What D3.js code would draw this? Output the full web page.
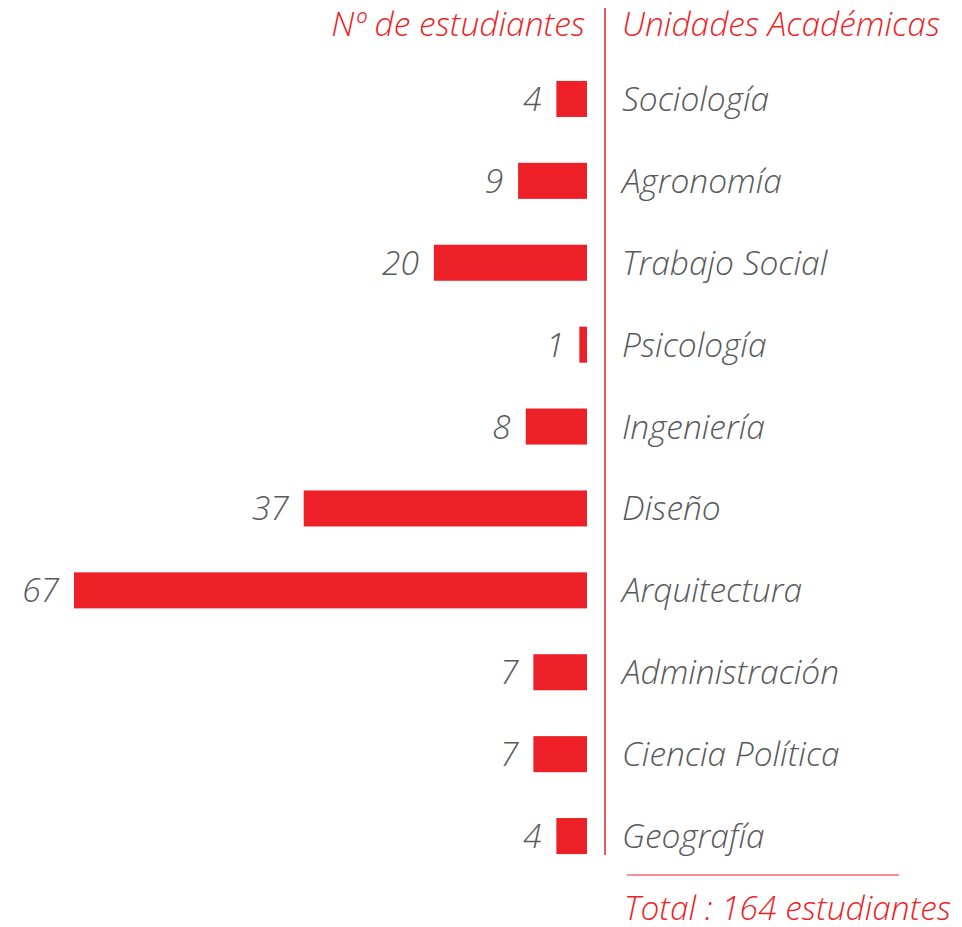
<!DOCTYPE html>
<html>
<head>
<meta charset="utf-8">
<script src="https://cdn.jsdelivr.net/npm/d3@7"></script>
<style>
  body { margin: 0; background: #fff; }
  text { font-family: "Open Sans", sans-serif; font-style: italic; font-weight: 300; }
</style>
</head>
<body>
<div id="chart"></div>
<script>
// data
var unidades = ["Sociología", "Agronomía", "Trabajo Social", "Psicología", "Ingeniería",
  "Diseño", "Arquitectura", "Administración", "Ciencia Política", "Geografía"];
var estudiantes = [4, 9, 20, 1, 8, 37, 67, 7, 7, 4];
var headerLeft = "Nº de estudiantes";
var headerRight = "Unidades Académicas";
var totalLabel = "Total : " + d3.sum(estudiantes) + " estudiantes";

var width = 962, height = 927;
var red = "#ed1f27", grey = "#58595b";
var axisX = 587;
var fs = "33.5px";

var svg = d3.select("#chart").append("svg")
  .attr("width", width)
  .attr("height", height);

var x = d3.scaleLinear()
  .domain([0, 67])
  .range([0, 513]);

var y = d3.scaleBand()
  .domain(unidades)
  .range([58, 877])
  .paddingInner(0.56)
  .paddingOuter(0.28);

var rows = unidades.map(function(u, i) { return { name: u, value: estudiantes[i] }; });

svg.selectAll(".bar")
  .data(rows)
  .join("rect")
  .attr("class", "bar")
  .attr("x", function(d) { return axisX - x(d.value); })
  .attr("y", function(d) { return y(d.name); })
  .attr("width", function(d) { return x(d.value); })
  .attr("height", y.bandwidth())
  .style("fill", red);

svg.selectAll(".val")
  .data(rows)
  .join("text")
  .attr("class", "val")
  .attr("x", function(d) { return axisX - x(d.value) - 15; })
  .attr("y", function(d) { return y(d.name) + y.bandwidth() / 2 + 12; })
  .attr("text-anchor", "end")
  .style("font-size", fs)
  .style("fill", grey)
  .text(function(d) { return d.value; });

svg.selectAll(".name")
  .data(rows)
  .join("text")
  .attr("class", "name")
  .attr("x", 622)
  .attr("y", function(d) { return y(d.name) + y.bandwidth() / 2 + 12; })
  .style("font-size", fs)
  .style("fill", grey)
  .text(function(d) { return d.name; });

// divider
svg.append("line")
  .attr("x1", 605).attr("x2", 605)
  .attr("y1", 8).attr("y2", 855)
  .style("stroke", red)
  .style("stroke-width", 1.5);

svg.append("text")
  .attr("x", 585)
  .attr("y", 36)
  .attr("text-anchor", "end")
  .style("font-size", fs)
  .style("fill", red)
  .text(headerLeft);

svg.append("text")
  .attr("x", 622)
  .attr("y", 36)
  .style("font-size", fs)
  .style("fill", red)
  .text(headerRight);

svg.append("line")
  .attr("x1", 627).attr("x2", 899)
  .attr("y1", 875).attr("y2", 875)
  .style("stroke", red)
  .style("stroke-width", 1.2);

svg.append("text")
  .attr("x", 624)
  .attr("y", 920)
  .style("font-size", fs)
  .style("fill", red)
  .text(totalLabel);
</script>
</body>
</html>
